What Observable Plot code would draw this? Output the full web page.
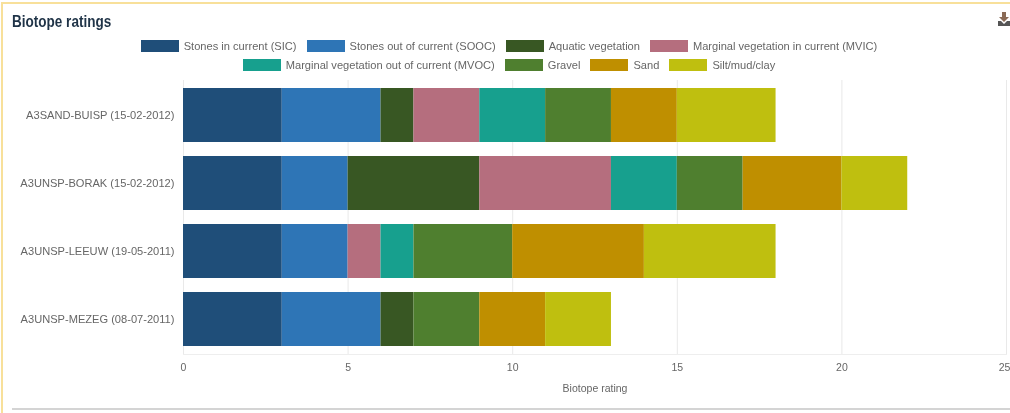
<!DOCTYPE html>
<html><head><meta charset="utf-8">
<script src="https://cdn.jsdelivr.net/npm/d3@7"></script>
<script src="https://cdn.jsdelivr.net/npm/@observablehq/plot@0.6"></script>
<style>
html,body{margin:0;padding:0;background:#fff;width:1010px;height:413px;overflow:hidden}
#wrap{position:relative;width:1010px;height:413px;overflow:hidden;filter:blur(.55px);font-family:"Liberation Sans",sans-serif}
#frame{position:absolute;left:1px;top:2px;width:1020px;height:500px;border-top:2px solid #f8e09a;border-left:2px solid #f8e09a}
#rule{position:absolute;left:12px;top:408px;width:1000px;height:2px;background:#d4d4d4}
#title{position:absolute;left:12px;top:11px;font:bold 16.5px "Liberation Sans",sans-serif;color:#1f3347;line-height:20px;transform:scaleX(.82);transform-origin:0 0;white-space:nowrap}
.row{position:absolute;left:0;width:1018px;display:flex;justify-content:center;gap:10px;font-size:11.1px;color:#666;line-height:14px;white-space:nowrap}
.item{display:flex;gap:5px;align-items:center}
.sw{width:38px;height:12px;display:inline-block}
#icon{position:absolute;left:998px;top:12px}
#chart{position:absolute;left:0;top:0}
</style></head><body>
<div id="wrap">
<div id="frame"></div><div id="rule"></div>
<div id="title">Biotope ratings</div>
<div class="row" id="row1" style="top:39px"></div>
<div class="row" id="row2" style="top:58px"></div>
<svg id="icon" width="12" height="15" viewBox="0 0 12 15"><path d="M4 0h4v5h3l-5 5-5-5h3z" fill="#8a6a55"/><path d="M0 9h3l3 3 3-3h3v5H0z" fill="#555"/></svg>
<div id="chart"></div>
</div>
<script>
const samples = ["A3SAND-BUISP (15-02-2012)","A3UNSP-BORAK (15-02-2012)","A3UNSP-LEEUW (19-05-2011)","A3UNSP-MEZEG (08-07-2011)"];
const biotopes = ["Stones in current (SIC)","Stones out of current (SOOC)","Aquatic vegetation","Marginal vegetation in current (MVIC)","Marginal vegetation out of current (MVOC)","Gravel","Sand","Silt/mud/clay"];
const colours = ["#1f4e79","#2e75b6","#385723","#b56e7e","#17a08e","#4f7f2f","#bf8f00","#bfbf0f"];
const buisp = [3,3,1,2,2,2,2,3];
const borak = [3,2,4,4,2,2,3,2];
const leeuw = [3,2,0,1,1,3,4,4];
const mezeg = [3,3,1,0,0,2,2,2];
const xTicks = [0,5,10,15,20,25];

const table = [buisp,borak,leeuw,mezeg].flatMap((vals,i)=>vals.map((v,j)=>({sample:samples[i],biotope:biotopes[j],value:v})));

biotopes.forEach((b,i)=>{
  const it=document.createElement("div");it.className="item";
  const s=document.createElement("span");s.className="sw";s.style.background=colours[i];
  const t=document.createElement("span");t.textContent=b;
  it.append(s,t);
  document.getElementById(i<4?"row1":"row2").append(it);
});

const chart = Plot.plot({
  width:1010,height:413,
  marginLeft:183,marginRight:4,marginTop:80,marginBottom:59,
  style:{fontFamily:'"Liberation Sans",sans-serif',fontSize:"11.1px",color:"#666",background:"transparent"},
  x:{domain:[0,25]},
  y:{domain:samples,paddingInner:.2,paddingOuter:.1,label:null},
  color:{domain:biotopes,range:colours},
  marks:[
    Plot.ruleX(xTicks,{stroke:"#e9e9e9"}),
    Plot.frame({anchor:"bottom",stroke:"#eeeeee"}),
    Plot.barX(table,{x:"value",y:"sample",fill:"biotope",order:null}),
    Plot.axisX({ticks:xTicks.slice(0,-1),tickSize:0,tickPadding:9,fontSize:10.5,label:"Biotope rating",labelAnchor:"center",labelArrow:"none",labelOffset:37}),
    Plot.axisX({ticks:xTicks.slice(-1),tickSize:0,tickPadding:9,fontSize:10.5,dx:-2,label:null}),
    Plot.axisY({tickSize:0,tickPadding:9,label:null})
  ]
});
document.getElementById("chart").append(chart);
</script>
</body></html>
